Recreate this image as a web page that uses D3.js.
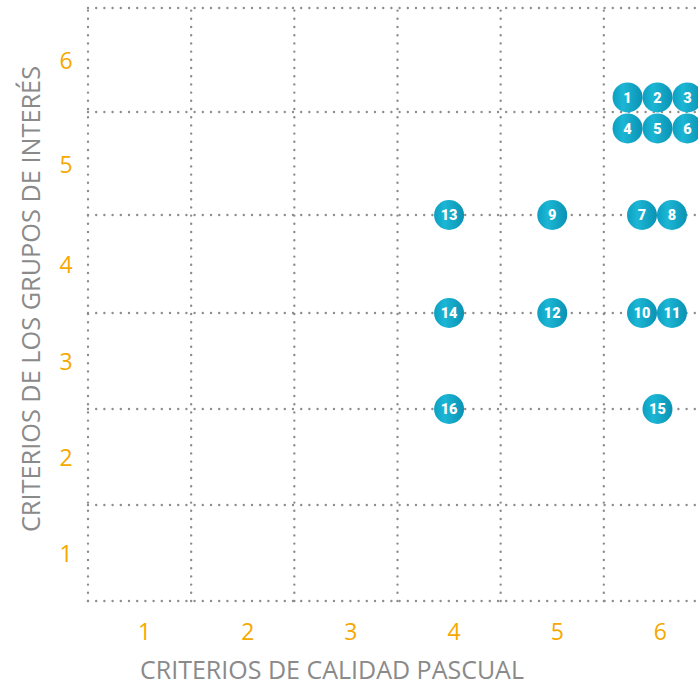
<!DOCTYPE html>
<meta charset="utf-8">
<style>
  body { margin: 0; background: #fff; }
  svg { display: block; }
</style>
<body>
<svg width="698" height="685"></svg>
<script src="https://d3js.org/d3.v7.min.js"></script>
<script>
// data
var ticks = [1, 2, 3, 4, 5, 6];
var gridLines = [0.5, 1.5, 2.5, 3.5, 4.5, 5.5, 6.5];
var labels = ["1", "2", "3", "4", "5", "6", "7", "8", "9", "10", "11", "12", "13", "14", "15", "16"];
var calidad = [5.73, 6.02, 6.31, 5.73, 6.02, 6.31, 5.87, 6.16, 5.0, 5.87, 6.16, 5.0, 4.0, 4.0, 6.02, 4.0];
var grupos  = [5.64, 5.64, 5.64, 5.34, 5.34, 5.34, 4.5, 4.5, 4.5, 3.5, 3.5, 3.5, 4.5, 3.5, 2.5, 2.5];

var xTitle = "CRITERIOS DE CALIDAD PASCUAL";
var yTitle = "CRITERIOS DE LOS GRUPOS DE INTERÉS";

var svg = d3.select("svg");

// x: plain linear, the last column runs off the right edge
var x = d3.scaleLinear()
  .domain([0.5, 6.5])
  .range([88, 707]);

// y: rows are a touch taller at the top in the original
var y = d3.scaleLinear()
  .domain(gridLines)
  .range([601, 505, 409, 313, 215, 112, 8]);

// dotted grid
var grid = svg.append("g")
  .attr("stroke", "#8d8d8d")
  .attr("stroke-width", 2.4)
  .attr("stroke-linecap", "round")
  .attr("stroke-dasharray", "0,8.2");

grid.selectAll(".h")
  .data(gridLines)
  .enter()
  .append("line")
    .attr("x1", x(0.5))
    .attr("x2", x(6.5))
    .attr("y1", d => y(d))
    .attr("y2", d => y(d));

grid.selectAll(".v")
  .data(gridLines)
  .enter()
  .append("line")
    .attr("x1", d => x(d))
    .attr("x2", d => x(d))
    .attr("y1", y(0.5))
    .attr("y2", y(6.5));

// tick labels
svg.append("g")
  .selectAll("text")
  .data(ticks)
  .enter()
  .append("text")
    .attr("x", d => x(d) + 5)
    .attr("y", 640)
    .attr("text-anchor", "middle")
    .attr("font-family", "Open Sans, sans-serif")
    .attr("font-size", 23)
    .attr("fill", "#f6a800")
    .text(d => d);

svg.append("g")
  .selectAll("text")
  .data(ticks)
  .enter()
  .append("text")
    .attr("x", 66)
    .attr("y", d => y(d) + 9)
    .attr("text-anchor", "middle")
    .attr("font-family", "Open Sans, sans-serif")
    .attr("font-size", 23)
    .attr("fill", "#f6a800")
    .text(d => d);

// axis titles
svg.append("text")
  .attr("x", 332)
  .attr("y", 679)
  .attr("text-anchor", "middle")
  .attr("font-family", "Open Sans, sans-serif")
  .attr("font-size", 25)
  .attr("fill", "#8a8a8a")
  .text(xTitle);

svg.append("text")
  .attr("transform", "translate(40,299) rotate(-90)")
  .attr("text-anchor", "middle")
  .attr("font-family", "Open Sans, sans-serif")
  .attr("font-size", 25.3)
  .attr("fill", "#8a8a8a")
  .text(yTitle);

// bubble gradient
var grad = svg.append("defs").append("linearGradient")
  .attr("id", "bub")
  .attr("x1", "0%").attr("x2", "100%")
  .attr("y1", "0%").attr("y2", "0%");
grad.append("stop").attr("offset", "0%").attr("stop-color", "#0c9fc1");
grad.append("stop").attr("offset", "35%").attr("stop-color", "#1cb6d5");
grad.append("stop").attr("offset", "100%").attr("stop-color", "#0a92b3");

var points = labels.map((l, i) => ({ label: l, cx: calidad[i], cy: grupos[i] }));

var dots = svg.append("g")
  .selectAll("g")
  .data(points)
  .enter()
  .append("g")
    .attr("transform", d => "translate(" + x(d.cx) + "," + y(d.cy) + ")");

dots.append("circle")
  .attr("r", 15)
  .attr("fill", "url(#bub)");

dots.append("text")
  .attr("text-anchor", "middle")
  .attr("dy", "0.36em")
  .attr("font-family", "Roboto, sans-serif")
  .attr("font-weight", 900)
  .attr("font-size", 14.5)
  .attr("fill", "#fff")
  .text(d => d.label);
</script>
</body>
